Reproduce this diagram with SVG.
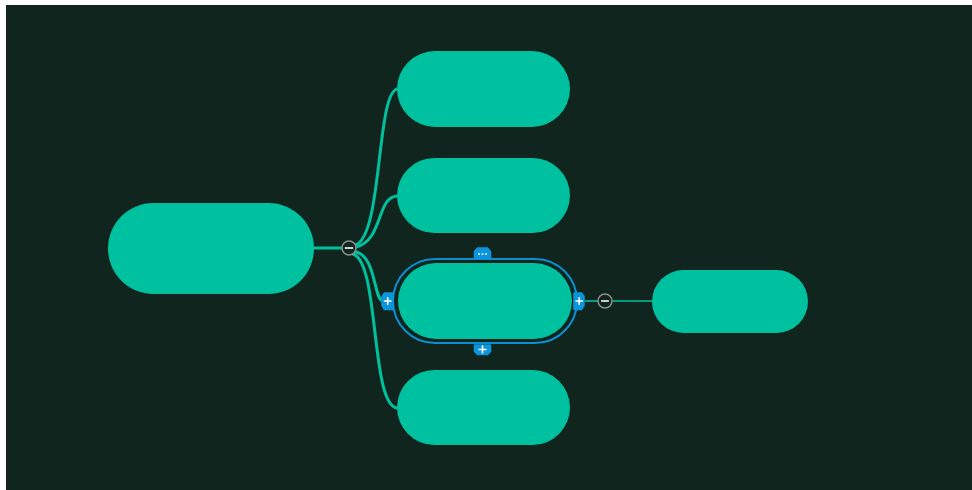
<svg xmlns="http://www.w3.org/2000/svg" width="972" height="490" viewBox="0 0 972 490">
<style>
.node{fill:#00c19f;}
.conn{fill:none;stroke:#00c19f;stroke-width:3;stroke-linecap:round;}
.thin{fill:none;stroke:#00c19f;stroke-width:1.6;}
.toggle{fill:#12241e;stroke:#8a918d;stroke-width:1.5;}
.sign{stroke:#c9cfcc;stroke-width:1.8;stroke-linecap:round;}
.badge{fill:#0b95db;stroke:#0b95db;stroke-width:1.5;stroke-linejoin:round;}
.bsign{stroke:#ffffff;stroke-width:1.6;stroke-linecap:round;}
</style>
<rect x="0" y="0" width="972" height="490" fill="#ffffff"/>
<rect x="6" y="5" width="966" height="485" fill="#10251e"/>
<g id="connectors">
<path class="conn" d="M314,248 H342"/>
<path class="conn" d="M355,245 C383,238 376,89 398,89"/>
<path class="conn" d="M356,247 C384,240 376,196 398,196"/>
<path class="conn" d="M356,252 C376,256 374,301 383,301"/>
<path class="conn" d="M353,254 C380,262 370,408 398,408"/>
<path class="thin" d="M585,301 H598"/>
<path class="thin" d="M612,301 H653"/>
</g>
<g id="root"><rect class="node" x="108" y="203" width="206" height="91" rx="45.5"/></g>
<g id="toggle-root"><circle class="toggle" cx="349" cy="248" r="7"/><line class="sign" x1="345.5" y1="248" x2="352.5" y2="248"/></g>
<g id="child1"><rect class="node" x="397" y="51" width="173" height="76" rx="38"/></g>
<g id="child2"><rect class="node" x="397" y="158" width="173" height="75" rx="37.5"/></g>
<g id="child3">
<rect x="393" y="259" width="184" height="84" rx="42" fill="none" stroke="#0b8fd3" stroke-width="2"/>
<rect class="node" x="398" y="263" width="174" height="76" rx="38"/>
</g>
<g id="child4"><rect class="node" x="397" y="370" width="173" height="75" rx="37.5"/></g>
<g id="badges">
<path class="badge" d="M477.5,248 H487.5 L490.5,251.5 V258 H474.5 V251.5 Z"/>
<circle cx="479" cy="254" r="0.9" fill="#fff"/><circle cx="482.5" cy="254" r="0.9" fill="#fff"/><circle cx="486" cy="254" r="0.9" fill="#fff"/>
<path class="badge" d="M474.5,345 H490.5 V351.5 L487.5,354.5 H477.5 L474.5,351.5 Z"/>
<line class="bsign" x1="479" y1="349.5" x2="486" y2="349.5"/><line class="bsign" x1="482.5" y1="346" x2="482.5" y2="353"/>
<path class="badge" d="M384.5,293 H393 V309.5 H384.5 L382,305.5 V296.5 Z"/>
<line class="bsign" x1="384.5" y1="301" x2="391" y2="301"/><line class="bsign" x1="387.7" y1="297.8" x2="387.7" y2="304.2"/>
<path class="badge" d="M574,293 H581.5 L584,296.5 V305.5 L581.5,309.5 H574 Z"/>
<line class="bsign" x1="576" y1="301" x2="582.5" y2="301"/><line class="bsign" x1="579.2" y1="297.8" x2="579.2" y2="304.2"/>
</g>
<g id="toggle-child3"><circle class="toggle" cx="605" cy="301" r="7"/><line class="sign" x1="601.8" y1="301" x2="608.2" y2="301"/></g>
<g id="grandchild"><rect class="node" x="652" y="270" width="156" height="63" rx="31.5"/></g>
</svg>
